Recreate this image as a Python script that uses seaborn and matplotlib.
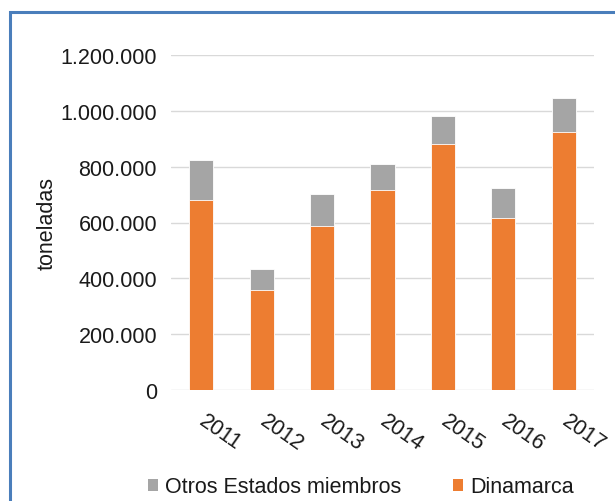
import matplotlib
matplotlib.use("Agg")
import matplotlib.pyplot as plt
import matplotlib.ticker as mticker
import matplotlib.transforms as mtransforms
from matplotlib.patches import Rectangle, Patch
import seaborn as sns
import pandas as pd

# Tonnes per year, split by origin
years = ["2011", "2012", "2013", "2014", "2015", "2016", "2017"]
dinamarca = [681000, 359000, 588000, 717000, 880000, 616000, 923000]
otros = [142000, 73000, 114000, 92000, 101000, 107000, 122000]
yticks = [0, 200000, 400000, 600000, 800000, 1000000, 1200000]

ORANGE = "#ED7D31"
GREY = "#A5A5A5"
TEXT = "#1a1a1a"
FS = 15.5

sns.set_theme(style="white")
plt.rcParams["font.family"] = ["Liberation Sans", "DejaVu Sans"]

df = pd.DataFrame({"year": years, "Dinamarca": dinamarca, "Otros": otros})
df["total"] = df["Dinamarca"] + df["Otros"]

W, H = 615, 502
fig = plt.figure(figsize=(W / 100, H / 100), dpi=100)
ax = fig.add_axes([171 / W, 1 - 391 / H, (594 - 171) / W, (391 - 56) / H])

# stacked bars: total in grey, Denmark in orange on top of it
sns.barplot(data=df, x="year", y="total", color=GREY, width=0.4,
            edgecolor="white", linewidth=0.6, saturation=1, ax=ax, zorder=3)
sns.barplot(data=df, x="year", y="Dinamarca", color=ORANGE, width=0.4,
            edgecolor="white", linewidth=0.6, saturation=1, ax=ax, zorder=3)

ax.set_xlim(-0.5, len(years) - 0.5)
ax.set_ylim(0, 1200000)
ax.set_yticks(yticks)
ax.yaxis.set_major_formatter(
    mticker.FuncFormatter(lambda v, p: f"{int(v):,}".replace(",", ".")))
ax.grid(axis="y", color="#D9D9D9", linewidth=1.0, zorder=0)
ax.set_axisbelow(True)
for s in ax.spines.values():
    s.set_visible(False)

ax.tick_params(axis="y", length=0, pad=10, labelsize=FS, labelcolor=TEXT)
ax.tick_params(axis="x", length=0, pad=14, labelsize=FS, labelcolor=TEXT)
ax.set_xlabel("")
ax.set_ylabel("toneladas", fontsize=FS, color=TEXT)
ax.yaxis.set_label_coords((58 - 171) / (594 - 171), 0.5)

shift = mtransforms.ScaledTranslation(6 / 100, 0, fig.dpi_scale_trans)
for lab in ax.get_xticklabels():
    lab.set_rotation(-35)
    lab.set_ha("left")
    lab.set_va("top")
    lab.set_rotation_mode("anchor")
    lab.set_transform(lab.get_transform() + shift)

handles = [Patch(facecolor=GREY, edgecolor="none", label="Otros Estados miembros"),
           Patch(facecolor=ORANGE, edgecolor="none", label="Dinamarca")]
fig.legend(handles=handles, loc="center", bbox_to_anchor=(361 / W, 14 / H),
           ncol=2, frameon=False, fontsize=FS, handlelength=0.45,
           handleheight=0.45, handletextpad=0.35, columnspacing=2.4,
           labelcolor=TEXT, borderpad=0)

# chart frame, open on the right and bottom
fig.patches.append(Rectangle((10 / W, -0.1), 1.2, 1 - 13 / H + 0.1,
                             transform=fig.transFigure, fill=False,
                             edgecolor="#4A7EBB", linewidth=2.2, zorder=10))

fig.savefig("out.png", dpi=100)
